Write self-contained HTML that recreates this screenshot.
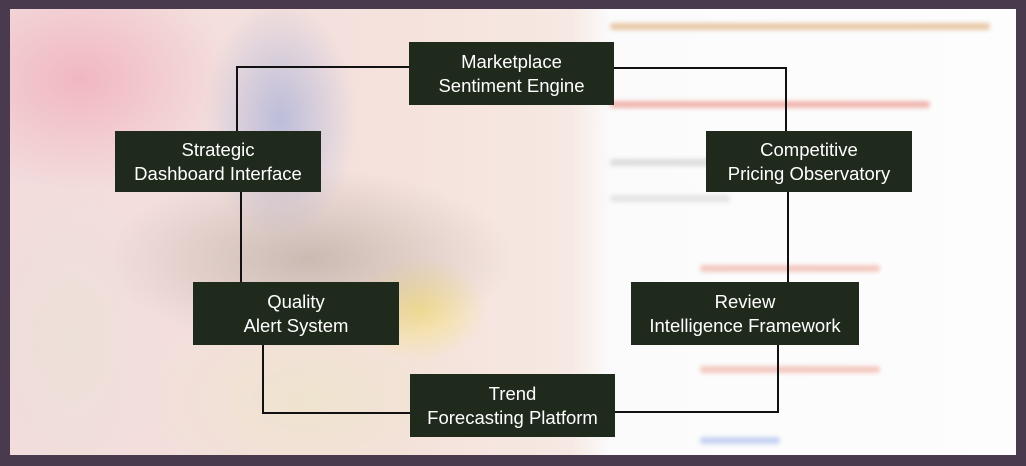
<!DOCTYPE html>
<html><head><style>
html,body{margin:0;padding:0}
body{width:1026px;height:466px;position:relative;overflow:hidden;background:#4a3a4e;font-family:"Liberation Sans",sans-serif}
#bg{position:absolute;left:10px;top:9px;width:1006px;height:446px;overflow:hidden;
background:
radial-gradient(ellipse 110px 170px at 270px 110px,rgba(150,165,215,.6),transparent 70%),
radial-gradient(ellipse 200px 150px at 70px 70px,rgba(240,170,185,.75),transparent 75%),
radial-gradient(ellipse 270px 120px at 300px 250px,rgba(175,160,150,.6),transparent 75%),
radial-gradient(ellipse 90px 70px at 410px 300px,rgba(245,225,130,.85),transparent 75%),
radial-gradient(ellipse 230px 130px at 300px 390px,rgba(238,228,205,.9),transparent 75%),
radial-gradient(ellipse 120px 200px at 60px 330px,rgba(235,225,215,.8),transparent 75%),
linear-gradient(90deg,#f2dcdc 0,#f5e2dd 400px,#f6e8e2 560px,#fbfbfb 600px,#fdfdfd 100%);}
.t{position:absolute;height:7px;border-radius:3px;filter:blur(2px)}
.n{position:absolute;background:#1f2a1c;color:#fff;font-size:18.5px;line-height:24px;text-align:center;display:flex;align-items:center;justify-content:center;box-sizing:border-box}
svg{position:absolute;left:0;top:0}
</style></head><body>
<div id="bg">
<div class="t" style="left:600px;top:14px;width:380px;background:#e8c9a8"></div>
<div class="t" style="left:600px;top:92px;width:320px;background:#f0b7b0"></div>
<div class="t" style="left:600px;top:150px;width:120px;background:#ddd"></div>
<div class="t" style="left:600px;top:186px;width:120px;background:#e4e4e4"></div>
<div class="t" style="left:690px;top:256px;width:180px;background:#f3c8c0"></div>
<div class="t" style="left:690px;top:357px;width:180px;background:#f3c8c0"></div>
<div class="t" style="left:690px;top:428px;width:80px;background:#c6d2f2"></div>
</div>
<svg width="1026" height="466"><g fill="none" stroke="#111" stroke-width="2">
<polyline points="409,67 237,67 237,131"/>
<polyline points="614,68 786,68 786,131"/>
<line x1="241" y1="191" x2="241" y2="282"/>
<line x1="788" y1="191" x2="788" y2="282"/>
<polyline points="263,345 263,413 410,413"/>
<polyline points="778,345 778,412 615,412"/>
</g></svg>
<div class="n" style="left:409px;top:42px;width:205px;height:63px">Marketplace<br>Sentiment Engine</div>
<div class="n" style="left:115px;top:131px;width:206px;height:61px">Strategic<br>Dashboard Interface</div>
<div class="n" style="left:706px;top:131px;width:206px;height:61px">Competitive<br>Pricing Observatory</div>
<div class="n" style="left:193px;top:282px;width:206px;height:63px">Quality<br>Alert System</div>
<div class="n" style="left:631px;top:282px;width:228px;height:63px">Review<br>Intelligence Framework</div>
<div class="n" style="left:410px;top:374px;width:205px;height:63px">Trend<br>Forecasting Platform</div>
</body></html>
